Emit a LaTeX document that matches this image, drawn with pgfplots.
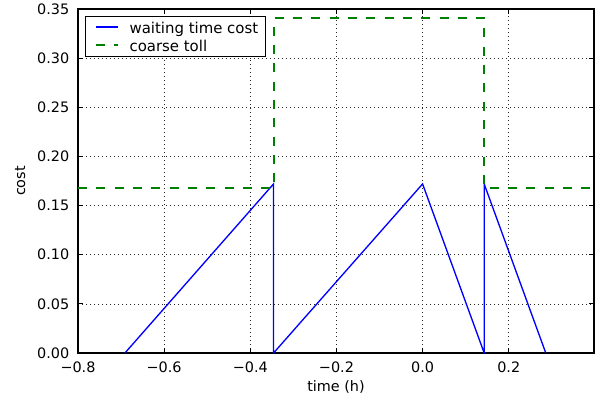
\documentclass[border=0pt]{standalone}
\usepackage{pgfplots}
\pgfplotsset{compat=1.18}
\usepackage{fontspec}
\setmainfont{DejaVu Sans}

\definecolor{mplblue}{rgb}{0,0,1}
\definecolor{mplgreen}{rgb}{0,0.5,0}
\newcommand{\lgstrut}{\rule[-4.75pt]{0pt}{15.5pt}}

\begin{document}
\begin{tikzpicture}
\path[use as bounding box] (-58.5pt,-37.5pt) rectangle (395.25pt,264.75pt);
\begin{axis}[
  at={(0,0)}, anchor=south west,
  scale only axis,
  width=387pt, height=258pt,
  font=\fontsize{10.8}{12}\selectfont,
  xmin=-0.8, xmax=0.398,
  ymin=0, ymax=0.35,
  xtick={-0.8,-0.6,-0.4,-0.2,0,0.2},
  xticklabels={−0.8,−0.6,−0.4,−0.2,0.0,0.2},
  ytick={0,0.05,0.1,0.15,0.2,0.25,0.3,0.35},
  yticklabels={0.00,0.05,0.10,0.15,0.20,0.25,0.30,0.35},
  scaled ticks=false,
  tick align=inside,
  major tick length=4pt,
  tick style={black, line width=0.6pt},
  axis line style={black, line width=0.8pt},
  grid=major,
  major grid style={black!85, dash pattern=on 0.75pt off 2.25pt, line width=0.5pt},
  xlabel={time (h)},
  ylabel={cost},
  xlabel style={at={(axis description cs:0.5,-0.099)}, anchor=center},
  ylabel style={at={(axis description cs:-0.112,0.5)}, anchor=center},
  xticklabel style={yshift=-3pt},
  yticklabel style={xshift=-3pt},
  legend style={at={(axis description cs:0.0136,0.98)}, anchor=north west,
    draw=black, line width=0.8pt, inner xsep=5.25pt, inner ysep=2.25pt,
    row sep=1pt, font=\fontsize{11.2}{13}\selectfont,
    nodes={inner sep=0pt}},
  legend cell align=left,
  legend image code/.code={%
    \path[draw=none, fill=none] (0pt,0pt) rectangle (27.75pt,0.1pt);
    \draw[#1, line width=1.2pt] (2.25pt,0.375pt) -- (18.75pt,0.375pt);},
]
\addplot[mplblue, line width=1pt] coordinates {
  (-0.691,0) (-0.346,0.172) (-0.346,0) (0.0,0.172) (0.143,0) (0.143,0.172) (0.286,0)
};
\addlegendentry{\lgstrut waiting time cost}
\addplot[mplgreen, line width=1.1pt, dash pattern=on 6.75pt off 7pt] coordinates {
  (-0.8,0.168) (-0.3448,0.168) (-0.3448,0.341) (0.143,0.341) (0.143,0.168) (0.398,0.168)
};
\addlegendentry{\lgstrut coarse toll}
\end{axis}
\end{tikzpicture}
\end{document}
